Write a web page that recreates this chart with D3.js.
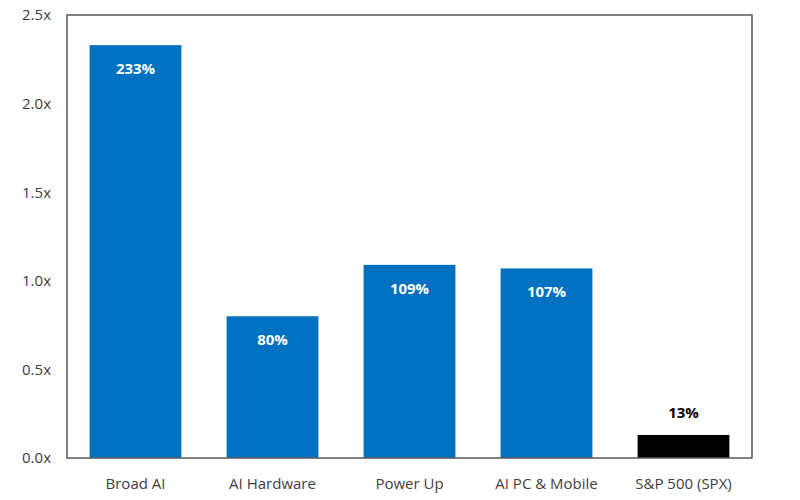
<!DOCTYPE html>
<html><head><meta charset="utf-8">
<script src="https://cdn.jsdelivr.net/npm/d3@7"></script>
<style>body{margin:0;background:#fff}svg{display:block}</style>
</head><body>
<svg id="c" width="800" height="500"></svg>
<script>
const categories = ["Broad AI", "AI Hardware", "Power Up", "AI PC & Mobile", "S&P 500 (SPX)"];
const values = [2.33, 0.80, 1.09, 1.07, 0.13];
const valueLabels = ["233%", "80%", "109%", "107%", "13%"];
const barColors = ["#0070C0", "#0070C0", "#0070C0", "#0070C0", "#000000"];
const yTicks = [0, 0.5, 1.0, 1.5, 2.0, 2.5];

const svg = d3.select("#c");
const m = {l: 67, r: 48, t: 15, b: 42};
const W = 800, H = 500;
const x = d3.scaleBand().domain(categories).range([m.l, W - m.r]).paddingInner(0.33).paddingOuter(0.165);
const y = d3.scaleLinear().domain([0, 2.5]).range([H - m.b, m.t]);
const font = "'Open Sans', 'DejaVu Sans', sans-serif";

// bars
svg.selectAll("rect.bar").data(categories).join("rect")
  .attr("x", d => x(d)).attr("width", x.bandwidth())
  .attr("y", (d, i) => y(values[i])).attr("height", (d, i) => y(0) - y(values[i]))
  .attr("fill", (d, i) => barColors[i]);

// frame
svg.append("rect").attr("x", m.l).attr("y", m.t).attr("width", W - m.r - m.l).attr("height", H - m.b - m.t)
  .attr("fill", "none").attr("stroke", "#5a5a5a").attr("stroke-width", 1.5);

// y axis
const ya = svg.append("g").attr("transform", `translate(${m.l},0)`)
  .call(d3.axisLeft(y).tickValues(yTicks).tickFormat(d => d.toFixed(1) + "x").tickSize(0).tickPadding(16));
ya.select(".domain").remove();
ya.selectAll("text").attr("font-family", font).attr("font-size", 15).attr("fill", "#404040");

// x axis
const xa = svg.append("g").attr("transform", `translate(0,${H - m.b})`)
  .call(d3.axisBottom(x).tickSize(0).tickPadding(20));
xa.select(".domain").remove();
xa.selectAll("text").attr("font-family", font).attr("font-size", 15).attr("fill", "#404040");

// value labels
svg.selectAll("text.val").data(categories).join("text")
  .attr("class", "val")
  .attr("x", d => x(d) + x.bandwidth() / 2)
  .attr("y", (d, i) => values[i] > 0.3 ? y(values[i]) + 29 : y(values[i]) - 17)
  .attr("text-anchor", "middle")
  .attr("font-family", font).attr("font-size", 15).attr("font-weight", "bold")
  .attr("fill", (d, i) => values[i] > 0.3 ? "#ffffff" : "#000000")
  .text((d, i) => valueLabels[i]);
</script>
</body></html>
